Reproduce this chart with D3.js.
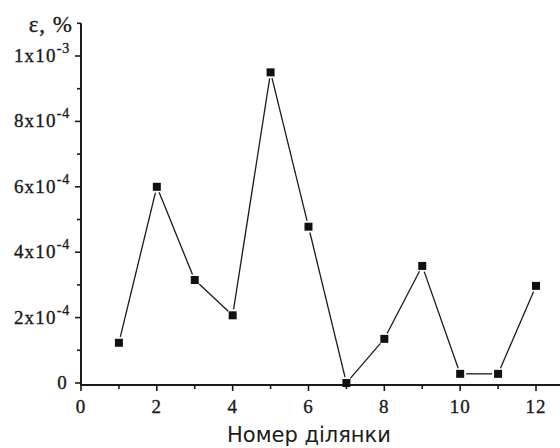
<!DOCTYPE html>
<html>
<head>
<meta charset="utf-8">
<script src="https://cdn.jsdelivr.net/npm/d3@7"></script>
<style>
  html, body { margin: 0; padding: 0; background: #fff; }
  svg { display: block; }
</style>
</head>
<body>
<svg id="chart" width="560" height="448"></svg>
<script>
// Section numbers and relative error, %
const sections = [1, 2, 3, 4, 5, 6, 7, 8, 9, 10, 11, 12];
const errors = [1.23e-4, 6.0e-4, 3.15e-4, 2.07e-4, 9.5e-4, 4.78e-4, 0.0, 1.35e-4, 3.58e-4, 0.28e-4, 0.28e-4, 2.97e-4];

const xMajorTicks = [0, 2, 4, 6, 8, 10, 12];
const xMinorTicks = [1, 3, 5, 7, 9, 11];
const yMajorTicks = [0, 2e-4, 4e-4, 6e-4, 8e-4, 1e-3];
const yMinorTicks = [1e-4, 3e-4, 5e-4, 7e-4, 9e-4, 1.1e-3];
const yTickLabels = [
  { base: "0", exp: "" },
  { base: "2x10", exp: "-4" },
  { base: "4x10", exp: "-4" },
  { base: "6x10", exp: "-4" },
  { base: "8x10", exp: "-4" },
  { base: "1x10", exp: "-3" }
];
const xTitle = "Номер ділянки";
const yTitle = "ε, %";

const svg = d3.select("#chart");
const serif = "'Liberation Serif', 'Times New Roman', serif";
const sans = "'DejaVu Sans', Arial, sans-serif";
const ink = "#1a1a1a";

const x = d3.scaleLinear().domain([0, 12]).range([81, 536]);
const y = d3.scaleLinear().domain([0, 1e-3]).range([383, 56]);
const axisY0 = 385;

// X axis
const gx = svg.append("g").attr("transform", `translate(0,${axisY0})`);
gx.append("line").attr("x1", x(0) - 1).attr("x2", 560).attr("y1", 0).attr("y2", 0)
  .attr("stroke", ink).attr("stroke-width", 2);
gx.selectAll("line.maj").data(xMajorTicks).join("line")
  .attr("x1", d => x(d)).attr("x2", d => x(d)).attr("y1", 0).attr("y2", 6)
  .attr("stroke", ink).attr("stroke-width", 1.6);
gx.selectAll("line.min").data(xMinorTicks).join("line")
  .attr("x1", d => x(d)).attr("x2", d => x(d)).attr("y1", 0).attr("y2", 4)
  .attr("stroke", ink).attr("stroke-width", 1.6);
gx.selectAll("text").data(xMajorTicks).join("text")
  .attr("x", d => x(d)).attr("y", 28)
  .attr("text-anchor", "middle")
  .attr("font-family", serif).attr("font-size", 19)
  .attr("stroke", ink).attr("stroke-width", 0.35)
  .attr("letter-spacing", 1).attr("fill", ink)
  .text(d => d);

// Y axis
const gy = svg.append("g").attr("transform", `translate(${x(0)},0)`);
gy.append("line").attr("x1", 0).attr("x2", 0).attr("y1", axisY0 + 1).attr("y2", y(1.1e-3))
  .attr("stroke", ink).attr("stroke-width", 2);
gy.selectAll("line.maj").data(yMajorTicks).join("line")
  .attr("x1", -6).attr("x2", 0).attr("y1", d => y(d)).attr("y2", d => y(d))
  .attr("stroke", ink).attr("stroke-width", 1.6);
gy.selectAll("line.min").data(yMinorTicks).join("line")
  .attr("x1", -4).attr("x2", 0).attr("y1", d => y(d)).attr("y2", d => y(d))
  .attr("stroke", ink).attr("stroke-width", 1.6);

const labels = gy.selectAll("text").data(yMajorTicks).join("text")
  .attr("x", (d, i) => yTickLabels[i].exp ? -11 : -13).attr("y", d => y(d) + 6)
  .attr("text-anchor", "end")
  .attr("font-family", serif).attr("font-size", 19)
  .attr("stroke", ink).attr("stroke-width", 0.35)
  .attr("letter-spacing", 1.2).attr("fill", ink);
labels.each(function(d, i) {
  const t = d3.select(this);
  const lab = yTickLabels[i];
  t.append("tspan").text(lab.base);
  if (lab.exp) {
    t.append("tspan").attr("dy", -9).attr("font-size", 14).attr("letter-spacing", 0.8).text(lab.exp);
  }
});

// Axis titles
svg.append("text").attr("x", 73).attr("y", 32).attr("text-anchor", "end")
  .attr("font-family", serif).attr("font-size", 23).attr("letter-spacing", 1)
  .attr("stroke", ink).attr("stroke-width", 0.3).attr("fill", ink).text(yTitle);
svg.append("text").attr("x", 309).attr("y", 442).attr("text-anchor", "middle")
  .attr("font-family", sans).attr("font-size", 21).attr("fill", ink).text(xTitle);

// Connecting segments with small gaps around the markers
const pts = sections.map((s, i) => [x(s), y(errors[i])]);
const gap = 6;
const segs = d3.pairs(pts).map(([a, b]) => {
  const dx = b[0] - a[0], dy = b[1] - a[1];
  const len = Math.hypot(dx, dy);
  const ux = dx / len, uy = dy / len;
  return [a[0] + ux * gap, a[1] + uy * gap, b[0] - ux * gap, b[1] - uy * gap];
});
svg.append("g").selectAll("line").data(segs).join("line")
  .attr("x1", d => d[0]).attr("y1", d => d[1]).attr("x2", d => d[2]).attr("y2", d => d[3])
  .attr("stroke", ink).attr("stroke-width", 1.3);

// Square markers
const ms = 8;
svg.append("g").selectAll("rect").data(sections).join("rect")
  .attr("x", (d, i) => x(d) - ms / 2).attr("y", (d, i) => y(errors[i]) - ms / 2)
  .attr("width", ms).attr("height", ms).attr("fill", "#111");
</script>
</body>
</html>
